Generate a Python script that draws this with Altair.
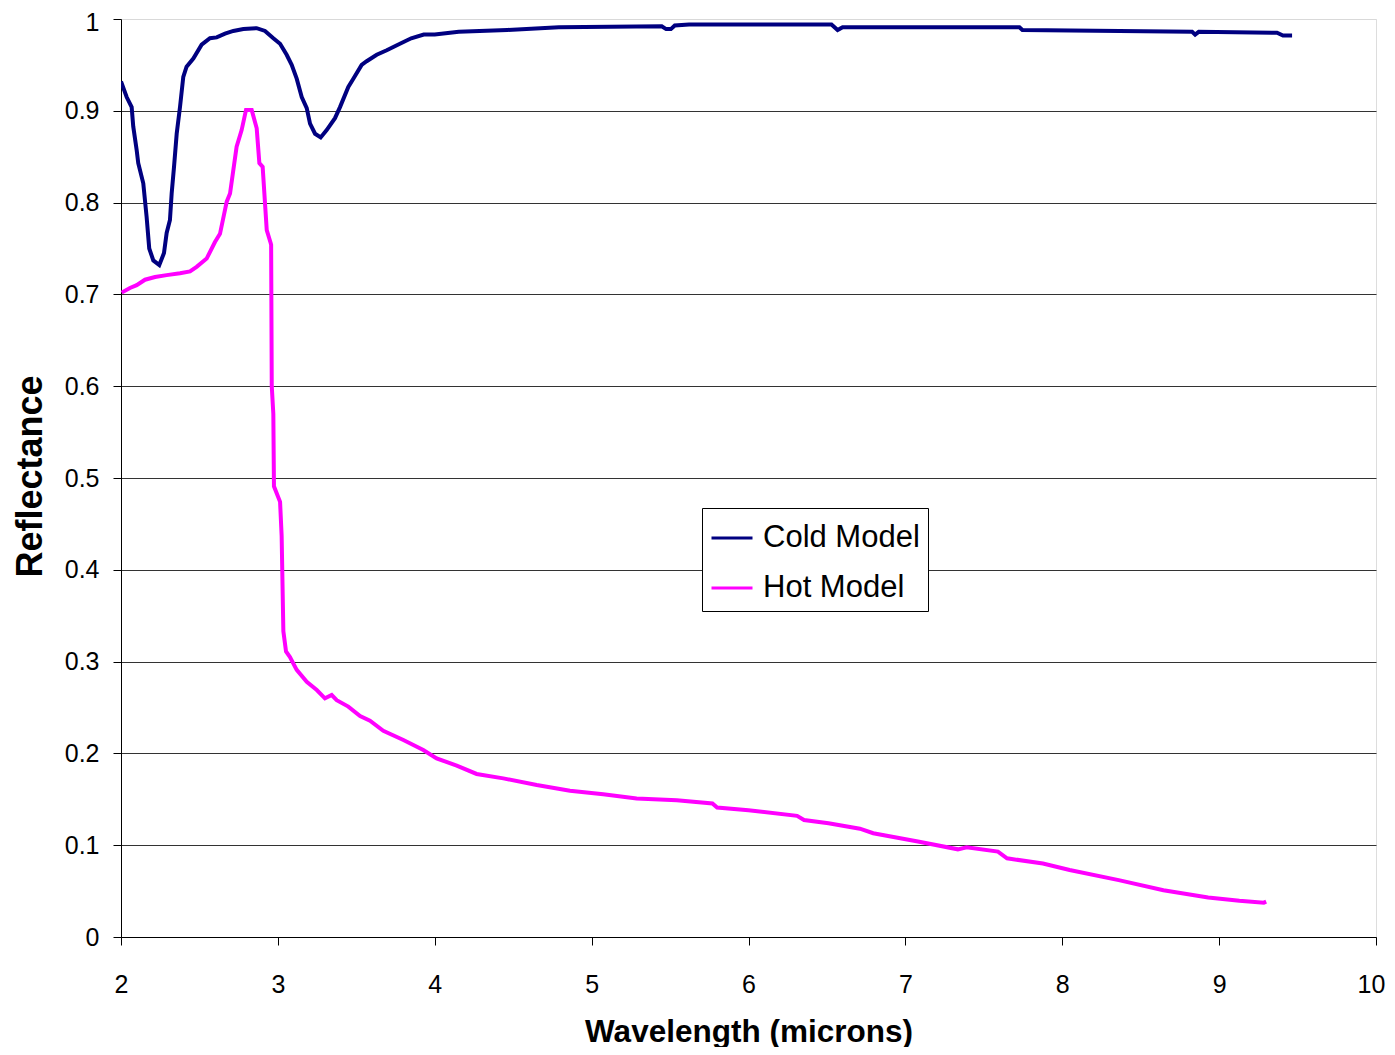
import altair as alt
import pandas as pd

cold_x = [2.0, 2.036, 2.068, 2.078, 2.1, 2.11, 2.142, 2.163, 2.18, 2.206, 2.244, 2.274, 2.291, 2.312,
          2.323, 2.338, 2.355, 2.376, 2.397, 2.418, 2.461, 2.514, 2.567, 2.61, 2.663, 2.716, 2.78,
          2.865, 2.918, 2.971, 3.014, 3.056, 3.088, 3.12, 3.152, 3.184, 3.205, 3.237, 3.273, 3.311,
          3.364, 3.396, 3.449, 3.481, 3.534, 3.566, 3.63, 3.694, 3.778, 3.85, 3.93, 4.0, 4.153,
          4.462, 4.791, 5.447, 5.475, 5.505, 5.53, 5.621, 6.529, 6.568, 6.6, 6.626, 7.727, 7.746,
          8.364, 8.828, 8.847, 8.87, 9.369, 9.407, 9.465]
cold_y = [0.932, 0.915, 0.904, 0.883, 0.857, 0.843, 0.821, 0.785, 0.750, 0.737, 0.732, 0.745, 0.767,
          0.781, 0.810, 0.839, 0.875, 0.904, 0.937, 0.948, 0.957, 0.972, 0.979, 0.980, 0.984, 0.987,
          0.989, 0.990, 0.987, 0.979, 0.973, 0.961, 0.950, 0.935, 0.915, 0.903, 0.886, 0.875, 0.871,
          0.879, 0.892, 0.904, 0.926, 0.935, 0.950, 0.954, 0.961, 0.966, 0.973, 0.979, 0.983, 0.983,
          0.986, 0.988, 0.991, 0.992, 0.989, 0.989, 0.993, 0.994, 0.994, 0.988, 0.991, 0.991, 0.991,
          0.988, 0.987, 0.986, 0.983, 0.986, 0.985, 0.982, 0.982]

hot_x = [2.004, 2.057, 2.1, 2.153, 2.217, 2.291, 2.376, 2.44, 2.482, 2.546, 2.599, 2.631, 2.674,
         2.695, 2.737, 2.769, 2.797, 2.833, 2.865, 2.882, 2.903, 2.929, 2.954, 2.957, 2.961, 2.971,
         2.975, 3.014, 3.024, 3.035, 3.052, 3.077, 3.12, 3.184, 3.248, 3.30, 3.343, 3.375, 3.449,
         3.524, 3.587, 3.672, 3.80, 3.927, 4.012, 4.14, 4.267, 4.437, 4.65, 4.862, 5.074, 5.287,
         5.543, 5.77, 5.80, 6.0, 6.31, 6.354, 6.51, 6.71, 6.795, 7.08, 7.335, 7.39, 7.59, 7.648,
         7.877, 8.047, 8.36, 8.645, 8.93, 9.129, 9.285, 9.30]
hot_y = [0.702, 0.707, 0.710, 0.716, 0.719, 0.721, 0.723, 0.725, 0.730, 0.739, 0.757, 0.766, 0.801,
         0.810, 0.861, 0.879, 0.901, 0.901, 0.881, 0.843, 0.839, 0.770, 0.756, 0.754, 0.600, 0.570,
         0.491, 0.474, 0.437, 0.333, 0.311, 0.305, 0.291, 0.278, 0.269, 0.260, 0.2636, 0.258, 0.251,
         0.2407, 0.2356, 0.2247, 0.2146, 0.2037, 0.1946, 0.1866, 0.1776, 0.1728, 0.1656, 0.1594,
         0.1554, 0.151, 0.149, 0.1455, 0.141, 0.138, 0.132, 0.1275, 0.124, 0.118, 0.113, 0.104,
         0.0955, 0.0977, 0.093, 0.0857, 0.080, 0.073, 0.062, 0.051, 0.043, 0.0395, 0.0374, 0.0385]

series_names = ["Cold Model", "Hot Model"]
series_colors = ["#000080", "#FF00FF"]
x_ticks = [2, 3, 4, 5, 6, 7, 8, 9, 10]
y_ticks = [0, 0.1, 0.2, 0.3, 0.4, 0.5, 0.6, 0.7, 0.8, 0.9, 1]

rows = []
for i, (x, y) in enumerate(zip(cold_x, cold_y)):
    rows.append({"wl": x, "refl": y, "series": series_names[0], "order": i})
for i, (x, y) in enumerate(zip(hot_x, hot_y)):
    rows.append({"wl": x, "refl": y, "series": series_names[1], "order": i})
df = pd.DataFrame(rows)

FONT = "Liberation Sans"

chart = alt.Chart(df).mark_line(strokeWidth=4, clip=True).encode(
    x=alt.X("wl:Q",
            scale=alt.Scale(domain=[2, 10], nice=False, zero=False),
            axis=alt.Axis(title="Wavelength (microns)", values=x_ticks, format="d",
                          grid=False, domainColor="#000000", tickColor="#000000",
                          tickSize=8, labelFontSize=25, labelFont=FONT, labelColor="#000000",
                          labelBaseline="alphabetic", labelPadding=47, labelFlush=False,
                          labelOverlap=False,
                          labelOffset={"condition": {"test": "datum.value === 10", "value": -5},
                                       "value": 0},
                          titleFont=FONT, titleFontSize=31.5, titleFontWeight="bold",
                          titleColor="#000000", titleBaseline="alphabetic", titleY=104)),
    y=alt.Y("refl:Q",
            scale=alt.Scale(domain=[0, 1], nice=False, zero=False),
            axis=alt.Axis(title="Reflectance", values=y_ticks, format="~g",
                          grid=True,
                          gridColor={"condition": {"test": "datum.value === 1", "value": "#d9d9d9"},
                                     "value": "#333333"},
                          gridWidth=1, labelOverlap=False,
                          labelOffset={"condition": {"test": "datum.value === 1", "value": 3},
                                       "value": 0},
                          domainColor="#000000", tickColor="#000000", tickSize=8,
                          labelFontSize=25, labelFont=FONT, labelColor="#000000", labelPadding=14,
                          titleFont=FONT, titleFontSize=36, titleFontWeight="bold",
                          titleColor="#000000", titleAngle=270, titleAlign="center",
                          titleBaseline="middle", titleX=-91, titleY=457)),
    color=alt.Color("series:N",
                    scale=alt.Scale(domain=series_names, range=series_colors),
                    legend=alt.Legend(title=None, orient="none", legendX=581, legendY=489,
                                      symbolType="stroke", symbolSize=1681, symbolStrokeWidth=3,
                                      labelFontSize=31, labelFont=FONT, labelColor="#000000",
                                      labelOffset=9, rowPadding=13, padding=8,
                                      strokeColor="#000000", fillColor="#FFFFFF")),
    order="order:Q",
).properties(
    width=1255, height=918,
    autosize=alt.AutoSizeParams(type="none"),
    padding={"left": 113, "top": 11, "right": 11, "bottom": 110},
).configure_view(stroke=None).configure(background="#FFFFFF")

chart.save("out.html", embed_options={"renderer": "svg", "actions": False})
